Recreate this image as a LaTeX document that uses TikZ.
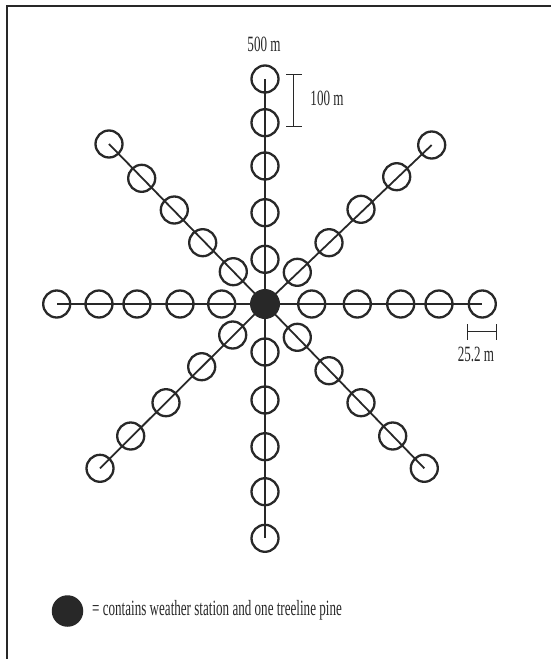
\documentclass[tikz,border=0pt]{standalone}
\usepackage{fontspec}
\setmainfont[FakeStretch=0.6]{Liberation Serif}
\definecolor{ink}{RGB}{40,40,40}
\begin{document}
\begin{tikzpicture}[x=1pt,y=-1pt,
  plot/.style={circle,draw=ink,line width=2.3pt,minimum size=27pt,inner sep=0pt},
  hub/.style={circle,fill=ink,minimum size=30pt,inner sep=0pt},
  spoke/.style={draw=ink,line width=1.8pt},
  bar/.style={draw=ink,line width=1.8pt},
  lbl/.style={font=\fontsize{21.8}{25}\selectfont,text=ink,inner sep=0pt}]
\useasboundingbox (0,0) rectangle (551,659);
\draw[ink,line width=2pt] (7,659) -- (7,6) -- (551,6);
\node[hub] (c) at (265,304) {};
% arms
\foreach \arm/\pts in {
  N/{(265,79),(265,122.7),(265,166),(265,212.7),(265,259.3)},
  S/{(265,538.3),(265,491.7),(265,446.7),(265,400),(265,352)},
  W/{(56.7,304),(99,304),(137,304),(180,304),(221.7,304)},
  E/{(482.3,304),(439,304),(400.7,304),(357.3,304),(311.7,304)},
  NE/{(431.7,145),(396.7,176.7),(361,209.3),(329,242.7),(297.3,272.3)},
  NW/{(109,144),(141.7,178.3),(174.3,210),(202.7,242.7),(233.3,271.7)},
  SW/{(100,468.3),(130.7,436),(166,402.7),(201.7,366.7),(232.7,335)},
  SE/{(424.3,468.3),(392.7,436),(361,402.7),(329,370.7),(297.3,337.3)}}{
  \foreach \p [count=\i] in \pts {
    \node[plot] (\arm\i) at \p {};
  }
  \draw[spoke] (c.center) -- (\arm1.center);
}
% labels
\node[lbl] (top) at (264,44) {500 m};
\coordinate (sbt) at (293.5,74.5);
\coordinate (sbb) at (293.5,126.5);
\draw[bar] (sbt) -- (sbb);
\draw[bar] ([xshift=-7.5pt]sbt) -- ([xshift=8pt]sbt);
\draw[bar] ([xshift=-7.5pt]sbb) -- ([xshift=8pt]sbb);
\node[lbl] (hm) at (327,98) {100 m};
\coordinate (hl) at (467.5,331.5);
\coordinate (hr) at (496.5,331.5);
\draw[bar] (hl) -- (hr);
\draw[bar] ([yshift=-8pt]hl) -- ([yshift=8pt]hl);
\draw[bar] ([yshift=-8pt]hr) -- ([yshift=8pt]hr);
\node[lbl] (wm) at (476,354) {25.2 m};
% legend
\node[hub,minimum size=31.5pt] (leg) at (67.5,611) {};
\node[lbl,anchor=west] (legt) at (92,610) {= contains weather station and one treeline pine};
\end{tikzpicture}
\end{document}
